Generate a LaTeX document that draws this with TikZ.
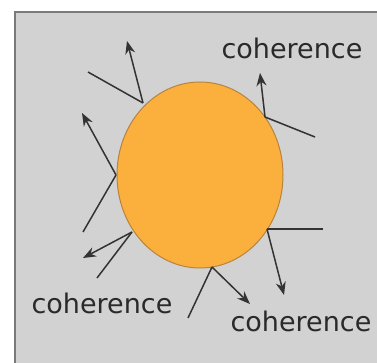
\documentclass[tikz,border=0pt]{standalone}
\usepackage{fontspec}
\setmainfont{DejaVu Sans}
\usetikzlibrary{arrows.meta,shapes.geometric}
\definecolor{bggrey}{HTML}{D2D2D2}
\definecolor{frame}{HTML}{7A7A7A}
\definecolor{sunfill}{HTML}{FBB03E}
\definecolor{sunedge}{HTML}{B8833E}
\definecolor{ink}{HTML}{333333}
\definecolor{txt}{HTML}{2A2A2A}
\tikzset{
  ray/.style={draw=ink, line width=1.5pt},
  wave/.style={draw=ink, line width=1.5pt, -{Stealth[length=13pt,width=10pt]}},
  lbl/.style={font=\fontsize{27}{30}\selectfont, text=txt, inner sep=0pt}
}
\begin{document}
\begin{tikzpicture}[x=1pt,y=-1pt]
\useasboundingbox (0,0) rectangle (377,363);
\clip (0,0) rectangle (377,363);
\fill[white] (0,0) rectangle (377,363);
\draw[draw=frame, line width=2.5pt, fill=bggrey] (15,12) rectangle (390,380);
\node[ellipse, draw=sunedge, line width=1pt, fill=sunfill, minimum width=166pt, minimum height=186pt, inner sep=0pt] (sun) at (200,175) {};
% points on the sun
\coordinate (p1) at (143,103);
\coordinate (p2) at (116,175);
\coordinate (p3) at (265,117);
\coordinate (p4) at (267,229);
\coordinate (p5) at (212,267);
\coordinate (p6) at (132,232);
% free ends
\coordinate (l1) at (88,72);   \coordinate (a1) at (127,41);
\coordinate (l2) at (83,232);  \coordinate (a2) at (82,113);
\coordinate (l3) at (315,137); \coordinate (a3) at (260,73);
\coordinate (l4) at (323,229); \coordinate (a4) at (284,295);
\coordinate (l5) at (188,318); \coordinate (a5) at (250,304);
\coordinate (l6) at (97,278);  \coordinate (a6) at (83,258);
\foreach \i in {1,...,6} {
  \draw[ray] (l\i) -- (p\i);
  \draw[wave] (p\i) -- (a\i);
}
\node[lbl] (c1) at (292,48) {coherence};
\node[lbl] (c2) at (102,303) {coherence};
\node[lbl] (c3) at (301,321) {coherence};
\end{tikzpicture}
\end{document}
